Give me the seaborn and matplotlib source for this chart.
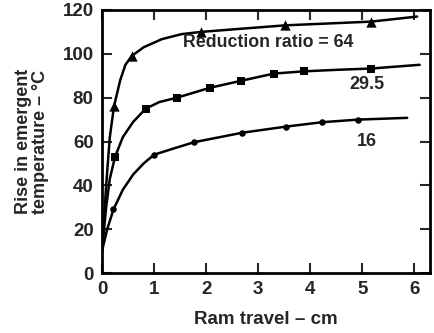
import pandas as pd
import matplotlib
matplotlib.use("Agg")
import matplotlib.pyplot as plt
import seaborn as sns

# curve points (ram travel in cm, rise in degC)
curve_x_64 = [0.0, 0.08, 0.15, 0.23, 0.35, 0.45, 0.57, 0.8, 1.15, 1.53, 1.9, 2.7, 3.52, 4.3, 5.17, 6.05]
curve_y_64 = [10, 40, 62, 76, 88, 95, 99, 103, 106.7, 109, 110, 111.5, 113, 113.8, 114.7, 117]
curve_x_295 = [0.0, 0.08, 0.15, 0.25, 0.4, 0.6, 0.84, 1.1, 1.44, 2.07, 2.67, 3.3, 3.87, 4.5, 5.17, 6.1]
curve_y_295 = [10, 30, 43, 53, 62, 69, 75, 78, 80, 84.5, 87.7, 91, 92, 92.7, 93.3, 95]
curve_x_16 = [0.0, 0.1, 0.22, 0.4, 0.6, 0.8, 1.0, 1.4, 1.77, 2.69, 3.53, 4.22, 4.92, 5.86]
curve_y_16 = [10, 20, 29, 38, 45, 50, 54, 57, 59.7, 64, 66.8, 68.8, 70, 70.8]

# measured points
pts_x_64 = [0.23, 0.57, 1.9, 3.52, 5.17]
pts_y_64 = [76, 99, 110, 113, 114.7]
pts_x_295 = [0.25, 0.84, 1.44, 2.07, 2.67, 3.3, 3.87, 5.17]
pts_y_295 = [53, 75, 80, 84.5, 87.7, 91, 92, 93.3]
pts_x_16 = [0.22, 1.0, 1.77, 2.69, 3.53, 4.22, 4.92]
pts_y_16 = [29, 54, 59.7, 64, 66.8, 68.8, 70]

ratios = ["64", "29.5", "16"]
markers = {"64": "^", "29.5": "s", "16": "o"}
marker_sizes = {"64": 55, "29.5": 35, "16": 22}

curves = pd.concat([
    pd.DataFrame({"x": curve_x_64, "y": curve_y_64, "ratio": "64"}),
    pd.DataFrame({"x": curve_x_295, "y": curve_y_295, "ratio": "29.5"}),
    pd.DataFrame({"x": curve_x_16, "y": curve_y_16, "ratio": "16"}),
])
points = pd.concat([
    pd.DataFrame({"x": pts_x_64, "y": pts_y_64, "ratio": "64"}),
    pd.DataFrame({"x": pts_x_295, "y": pts_y_295, "ratio": "29.5"}),
    pd.DataFrame({"x": pts_x_16, "y": pts_y_16, "ratio": "16"}),
])

sns.set_theme(style="ticks")
plt.rcParams['font.family'] = ['Liberation Sans', 'DejaVu Sans']

fig = plt.figure(figsize=(4.34, 3.33), dpi=100)
ax = fig.add_axes([0.235, 0.18, 0.756, 0.79])

sns.lineplot(data=curves, x="x", y="y", units="ratio", estimator=None, sort=False,
             color="black", linewidth=1.8, ax=ax)
for r in ratios:
    sub = points[points["ratio"] == r]
    sns.scatterplot(data=sub, x="x", y="y", marker=markers[r], s=marker_sizes[r],
                    color="black", edgecolor="black", linewidth=0, ax=ax, zorder=3)

ax.set_xlim(0, 6.3)
ax.set_ylim(0, 119.5)
ax.set_xticks(range(0, 7))
ax.set_yticks(range(0, 121, 20))

ax.text(1.56, 105, "Reduction ratio = 64", fontsize=12.8, fontweight="bold", va="center")
ax.text(5.08, 86, "29.5", fontsize=13, fontweight="bold", ha="center", va="center")
ax.text(5.08, 60, "16", fontsize=13, fontweight="bold", ha="center", va="center")

ax.set_xlabel("Ram travel \u2013 cm", fontsize=13.5, fontweight="bold", labelpad=9)
ax.set_ylabel("Rise in emergent\ntemperature \u2013 \u00b0C", fontsize=13, fontweight="bold",
              labelpad=10, linespacing=1.0)

ax.tick_params(direction="in", length=7, width=1.5, top=True, right=True,
               labelsize=13.5, pad=6)
for lab in ax.get_xticklabels() + ax.get_yticklabels():
    lab.set_fontweight("bold")
for sp in ax.spines.values():
    sp.set_visible(True)
    sp.set_linewidth(2)
    sp.set_color("black")

fig.savefig("out.png", dpi=100)
